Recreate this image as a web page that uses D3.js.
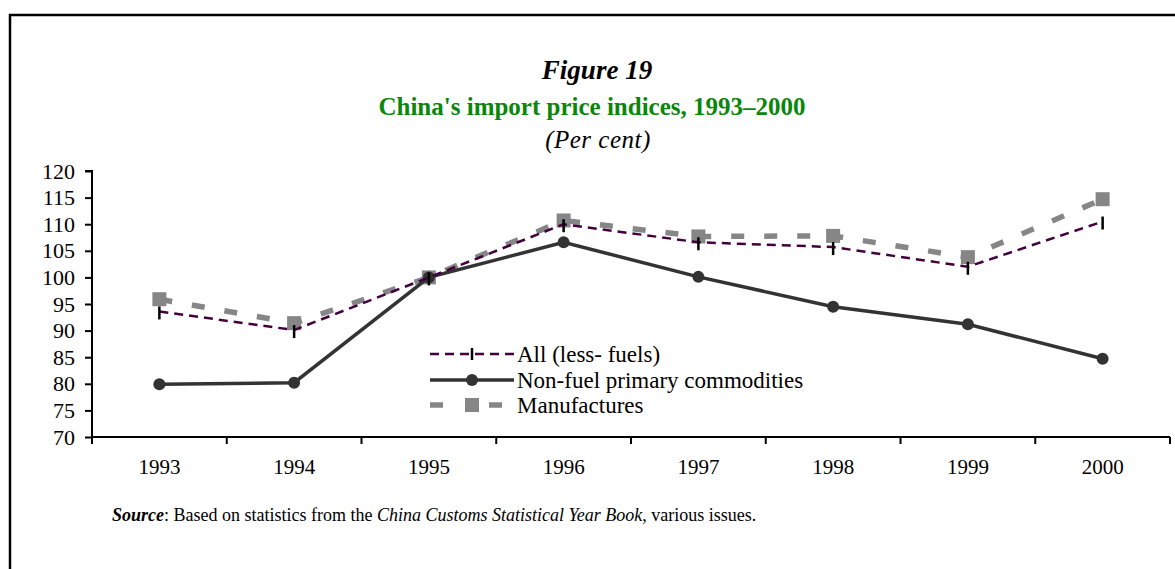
<!DOCTYPE html>
<html>
<head>
<meta charset="utf-8">
<script src="https://cdn.jsdelivr.net/npm/d3@7"></script>
<style>
  body { margin: 0; background: #fff; }
  text { font-family: "Liberation Serif", "Times New Roman", serif; }
</style>
</head>
<body>
<script>
// data
var years = ['1993','1994','1995','1996','1997','1998','1999','2000'];
var allLessFuels = [93.6, 90.1, 100, 110, 106.6, 105.7, 102, 110.5];
var nonFuel = [79.9, 80.2, 100, 106.6, 100.1, 94.5, 91.2, 84.7];
var manufactures = [95.9, 91.4, 100, 110.7, 107.7, 107.8, 103.8, 114.7];
var yTicks = [70, 75, 80, 85, 90, 95, 100, 105, 110, 115, 120];
var seriesNames = ['All (less- fuels)', 'Non-fuel primary commodities', 'Manufactures'];

var W = 1175, H = 569;
var svg = d3.select('body').append('svg')
  .attr('width', W).attr('height', H);

// frame (runs off the page on right and bottom)
svg.append('rect')
  .attr('x', 10).attr('y', 15)
  .attr('width', 1200).attr('height', 600)
  .attr('fill', 'none').attr('stroke', '#000').attr('stroke-width', 2.5);

// titles
svg.append('text').attr('x', 597).attr('y', 79)
  .attr('text-anchor', 'middle')
  .style('font-size', '27px').style('font-weight', 'bold').style('font-style', 'italic')
  .text('Figure 19');
svg.append('text').attr('x', 592).attr('y', 115)
  .attr('text-anchor', 'middle')
  .style('font-size', '25px').style('font-weight', 'bold').attr('fill', '#0a870a')
  .text("China's import price indices, 1993\u20132000");
svg.append('text').attr('x', 598).attr('y', 148)
  .attr('text-anchor', 'middle')
  .style('font-size', '25px').style('font-style', 'italic').style('letter-spacing', '0.5px')
  .text('(Per cent)');

var x = d3.scaleBand().domain(years).range([92, 1170]);
var y = d3.scaleLinear().domain([70, 120]).range([437, 171]);
var cx = function(d, i){ return x(years[i]) + x.bandwidth() / 2; };

// y axis
var yAxis = svg.append('g')
  .attr('transform', 'translate(92,0)')
  .call(d3.axisLeft(y).tickValues(yTicks).tickSize(7).tickPadding(10));
yAxis.selectAll('text').style('font-size', '22px').attr('fill', '#000');
yAxis.selectAll('line, path').attr('stroke', '#000').attr('stroke-width', 2);
yAxis.select('.domain').attr('d', 'M-7,171H0V437');

// x axis: labels centred in bands, ticks on band edges
var xAxis = svg.append('g')
  .attr('transform', 'translate(0,437)')
  .call(d3.axisBottom(x).tickSize(0).tickPadding(22));
xAxis.selectAll('text').style('font-size', '21px').attr('fill', '#000');
xAxis.select('.domain').attr('d', 'M92,0H1170').attr('stroke', '#000').attr('stroke-width', 2);
xAxis.selectAll('.edge').data(d3.range(years.length + 1)).enter().append('line')
  .attr('x1', function(d){ return 92 + d * x.step(); })
  .attr('x2', function(d){ return 92 + d * x.step(); })
  .attr('y1', 0).attr('y2', 7)
  .attr('stroke', '#000').attr('stroke-width', 2);

var line = d3.line().x(cx).y(function(d){ return y(d); });

// Manufactures
svg.append('path').datum(manufactures)
  .attr('d', line).attr('fill', 'none')
  .attr('stroke', '#868686').attr('stroke-width', 5.5)
  .attr('stroke-dasharray', '13,20');
svg.append('g').selectAll('rect').data(manufactures).enter().append('rect')
  .attr('x', function(d, i){ return cx(d, i) - 7; })
  .attr('y', function(d){ return y(d) - 7; })
  .attr('width', 14).attr('height', 14)
  .attr('fill', '#868686');

// Non-fuel primary commodities
svg.append('path').datum(nonFuel)
  .attr('d', line).attr('fill', 'none')
  .attr('stroke', '#333').attr('stroke-width', 3.5);
svg.append('g').selectAll('circle').data(nonFuel).enter().append('circle')
  .attr('cx', cx).attr('cy', function(d){ return y(d); })
  .attr('r', 6).attr('fill', '#333');

// All (less fuels)
svg.append('path').datum(allLessFuels)
  .attr('d', line).attr('fill', 'none')
  .attr('stroke', '#42003f').attr('stroke-width', 2.5)
  .attr('stroke-dasharray', '9,6');
svg.append('g').selectAll('line').data(allLessFuels).enter().append('line')
  .attr('x1', cx).attr('x2', cx)
  .attr('y1', function(d){ return y(d) - 5; })
  .attr('y2', function(d){ return y(d) + 8; })
  .attr('stroke', '#000').attr('stroke-width', 2.5);

// legend
var lg = svg.append('g');
var rows = [354, 380, 405];
lg.append('line').attr('x1', 430).attr('x2', 514).attr('y1', rows[0]).attr('y2', rows[0])
  .attr('stroke', '#42003f').attr('stroke-width', 2.5).attr('stroke-dasharray', '9,6');
lg.append('line').attr('x1', 472).attr('x2', 472).attr('y1', rows[0] - 6).attr('y2', rows[0] + 6)
  .attr('stroke', '#000').attr('stroke-width', 2.5);
lg.append('line').attr('x1', 430).attr('x2', 514).attr('y1', rows[1]).attr('y2', rows[1])
  .attr('stroke', '#333').attr('stroke-width', 3.5);
lg.append('circle').attr('cx', 472).attr('cy', rows[1]).attr('r', 6).attr('fill', '#333');
lg.append('line').attr('x1', 430).attr('x2', 514).attr('y1', rows[2]).attr('y2', rows[2])
  .attr('stroke', '#868686').attr('stroke-width', 5.5).attr('stroke-dasharray', '13,23,0,23,13');
lg.append('rect').attr('x', 465).attr('y', rows[2] - 7).attr('width', 14).attr('height', 14)
  .attr('fill', '#868686');
lg.selectAll('text').data(seriesNames).enter().append('text')
  .attr('x', 517).attr('y', function(d, i){ return rows[i] + 8; })
  .style('font-size', '23px')
  .text(function(d){ return d; });

// source note
var src = svg.append('text').attr('x', 112).attr('y', 521).style('font-size', '18px');
src.append('tspan').style('font-weight', 'bold').style('font-style', 'italic').text('Source');
src.append('tspan').text(':  Based on statistics from the  ');
src.append('tspan').style('font-style', 'italic').text('China Customs Statistical Year Book');
src.append('tspan').text(', various issues.');
</script>
</body>
</html>
